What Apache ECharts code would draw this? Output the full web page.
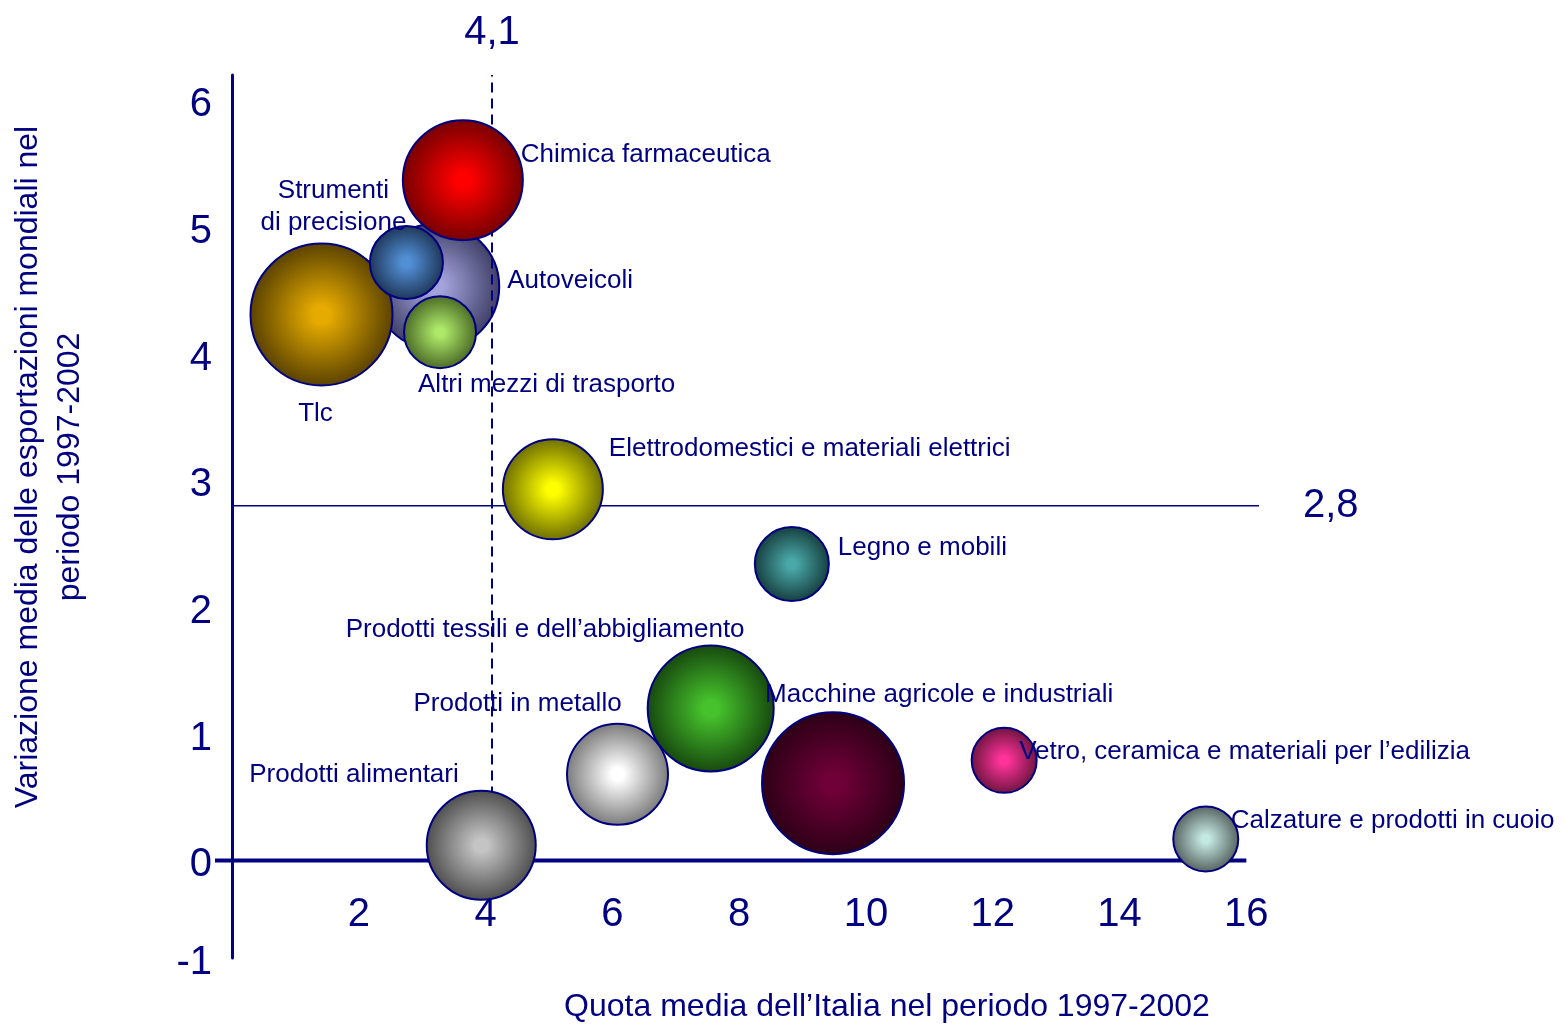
<!DOCTYPE html>
<html>
<head>
<meta charset="utf-8">
<script src="https://cdn.jsdelivr.net/npm/echarts@6/dist/echarts.min.js"></script>
<style>
  html, body { margin: 0; padding: 0; background: #ffffff; }
  #chart { width: 1563px; height: 1025px; }
</style>
</head>
<body>
<div id="chart"></div>
<script>
// Settori: quota media dell'Italia (x), variazione media export mondiali (y), peso del settore (dimensione bolla)
const settori = [
  'Tlc',
  'Autoveicoli',
  'Strumenti\ndi precisione',
  'Altri mezzi di trasporto',
  'Chimica farmaceutica',
  'Elettrodomestici e materiali elettrici',
  'Legno e mobili',
  'Prodotti tessili e dell\u2019abbigliamento',
  'Prodotti in metallo',
  'Macchine agricole e industriali',
  'Vetro, ceramica e materiali per l\u2019edilizia',
  'Prodotti alimentari',
  'Calzature e prodotti in cuoio'
];
const quotaItalia      = [1.41, 3.22, 2.75, 3.28, 3.64, 5.06, 8.83, 7.55, 6.08, 9.48, 12.18, 3.93, 15.36];
const variazioneExport = [4.31, 4.53, 4.72, 4.17, 5.37, 2.93, 2.34, 1.20, 0.68, 0.61, 0.79, 0.12, 0.17];
const pesoSettore      = [14.2, 12.6, 7.3, 7.2, 12.0, 10.0, 7.4, 12.6, 10.1, 14.2, 6.5, 10.9, 6.5];

// Valori soglia (medie)
const sogliaQuota = 4.1;
const sogliaVariazione = 2.8;

// Etichette degli assi
const xTickValues = [2, 4, 6, 8, 10, 12, 14, 16];
const yTickValues = [0, 1, 2, 3, 4, 5, 6];

// Estensione degli assi
const X_MIN = -0.27, X_MAX = 16.2;
const Y_MIN = -0.77, Y_MAX = 6.2;

const NAVY = '#000080';
const FONT = '"Liberation Sans", Arial, Helvetica, sans-serif';

// Colori delle bolle: centro luminoso, bordo scuro
const palette = [
  ['#e6ab00', '#5a4200'],
  ['#a3a3dc', '#3e3e66'],
  ['#5290d6', '#1e3658'],
  ['#aee868', '#4a6a26'],
  ['#ff0000', '#760000'],
  ['#ffff00', '#6e6e00'],
  ['#4aa8a8', '#163e3e'],
  ['#46c22c', '#17480e'],
  ['#ffffff', '#7a7a7a'],
  ['#700038', '#2c0016'],
  ['#ff3399', '#6e1440'],
  ['#c4c4c4', '#4e4e4e'],
  ['#c4e8e2', '#56625f']
];

// Posizione delle etichette rispetto al centro della bolla
const etichette = [
  { align: 'center', offset: [-6, 99] },
  { align: 'left',   offset: [71, -6] },
  { align: 'center', offset: [-73, -56] },
  { align: 'left',   offset: [-22, 53] },
  { align: 'left',   offset: [58, -25] },
  { align: 'left',   offset: [56, -40] },
  { align: 'left',   offset: [46, -16] },
  { align: 'left',   offset: [-365, -79] },
  { align: 'left',   offset: [-204, -70] },
  { align: 'left',   offset: [-68, -88] },
  { align: 'left',   offset: [15, -9] },
  { align: 'left',   offset: [-232, -70] },
  { align: 'left',   offset: [25, -18] }
];

// Bolle disegnate sotto la linea tratteggiata
const livelloRetro = ['Autoveicoli'];

function bolla(i) {
  const [c0, c1] = palette[i];
  return {
    name: settori[i],
    value: [quotaItalia[i], variazioneExport[i], pesoSettore[i]],
    itemStyle: {
      opacity: 1,
      color: {
        type: 'radial', x: 0.5, y: 0.5, r: 0.5,
        colorStops: [
          { offset: 0, color: c0 },
          { offset: 0.12, color: c0 },
          { offset: 1, color: c1 }
        ]
      },
      borderColor: NAVY,
      borderWidth: 2
    },
    label: {
      show: true,
      position: 'inside',
      formatter: '{b}',
      align: etichette[i].align,
      verticalAlign: 'middle',
      offset: etichette[i].offset,
      color: NAVY,
      fontSize: 26,
      lineHeight: 32,
      fontFamily: FONT,
      textBorderWidth: 0
    }
  };
}

const idx = settori.map((_, i) => i);
const datiRetro = idx.filter(i => livelloRetro.includes(settori[i])).map(bolla);
const datiFronte = idx.filter(i => !livelloRetro.includes(settori[i])).map(bolla);

const fmtVirgola = v => v.toFixed(1).replace('.', ',');
const xUltimo = xTickValues[xTickValues.length - 1];

const scatterBase = {
  type: 'scatter',
  symbol: 'circle',
  symbolSize: v => v[2] * 10,
  clip: false,
  itemStyle: { opacity: 1 },
  emphasis: { disabled: true },
  silent: true
};

const option = {
  backgroundColor: '#ffffff',
  animation: false,
  textStyle: { fontFamily: FONT },
  grid: { left: 215, right: 304, top: 75, bottom: 67, containLabel: false },
  xAxis: {
    type: 'value',
    min: X_MIN, max: X_MAX,
    axisLine: { show: false },
    axisTick: { show: false },
    splitLine: { show: false },
    axisLabel: {
      customValues: xTickValues,
      margin: -63,
      color: NAVY, fontSize: 40, fontFamily: FONT
    }
  },
  yAxis: {
    type: 'value',
    min: Y_MIN, max: Y_MAX,
    axisLine: { show: true, onZero: true, lineStyle: { color: NAVY, width: 3 } },
    axisTick: { show: false },
    splitLine: { show: false },
    axisLabel: {
      customValues: [Y_MIN].concat(yTickValues),
      formatter: v => String(Math.round(v)),
      margin: 3,
      verticalAlign: 'top',
      lineHeight: 10,
      color: NAVY, fontSize: 40, fontFamily: FONT
    }
  },
  graphic: [
    {
      type: 'text',
      x: 49, y: 467,
      rotation: Math.PI / 2,
      style: {
        text: 'Variazione media delle esportazioni mondiali nel\nperiodo 1997-2002',
        align: 'center', verticalAlign: 'middle',
        fill: NAVY, fontSize: 32, lineHeight: 42, fontFamily: FONT
      }
    },
    {
      type: 'text',
      x: 887, y: 1007,
      style: {
        text: 'Quota media dell\u2019Italia nel periodo 1997-2002',
        align: 'center', verticalAlign: 'middle',
        fill: NAVY, fontSize: 32, fontFamily: FONT
      }
    }
  ],
  series: [
    {
      name: 'asse x',
      type: 'line',
      z: 1,
      silent: true,
      symbol: 'none',
      lineStyle: { color: NAVY, width: 4 },
      data: [[X_MIN, 0], [xUltimo, 0]]
    },
    Object.assign({}, scatterBase, { name: 'retro', z: 2, data: datiRetro }),
    {
      name: 'soglia variazione',
      type: 'line',
      z: 3,
      silent: true,
      symbol: 'none',
      lineStyle: { color: NAVY, width: 1.5 },
      data: [[0, sogliaVariazione], [X_MAX, sogliaVariazione]],
      endLabel: {
        show: true,
        formatter: () => fmtVirgola(sogliaVariazione),
        distance: 44,
        color: NAVY, fontSize: 40, fontFamily: FONT
      }
    },
    {
      name: 'soglia quota',
      type: 'line',
      z: 3,
      silent: true,
      symbol: 'none',
      lineStyle: { color: NAVY, width: 2, type: [10, 6] },
      data: [[sogliaQuota, 0], [sogliaQuota, Y_MAX]],
      markPoint: {
        silent: true,
        symbol: 'circle',
        symbolSize: 1,
        itemStyle: { color: 'rgba(0,0,0,0)' },
        label: {
          show: true,
          position: 'top',
          distance: 22,
          formatter: () => fmtVirgola(sogliaQuota),
          color: NAVY, fontSize: 40, fontFamily: FONT
        },
        data: [{ coord: [sogliaQuota, Y_MAX] }]
      }
    },
    Object.assign({}, scatterBase, { name: 'fronte', z: 4, data: datiFronte })
  ]
};

const chart = echarts.init(document.getElementById('chart'), null, { renderer: 'canvas' });
chart.setOption(option);
</script>
</body>
</html>
